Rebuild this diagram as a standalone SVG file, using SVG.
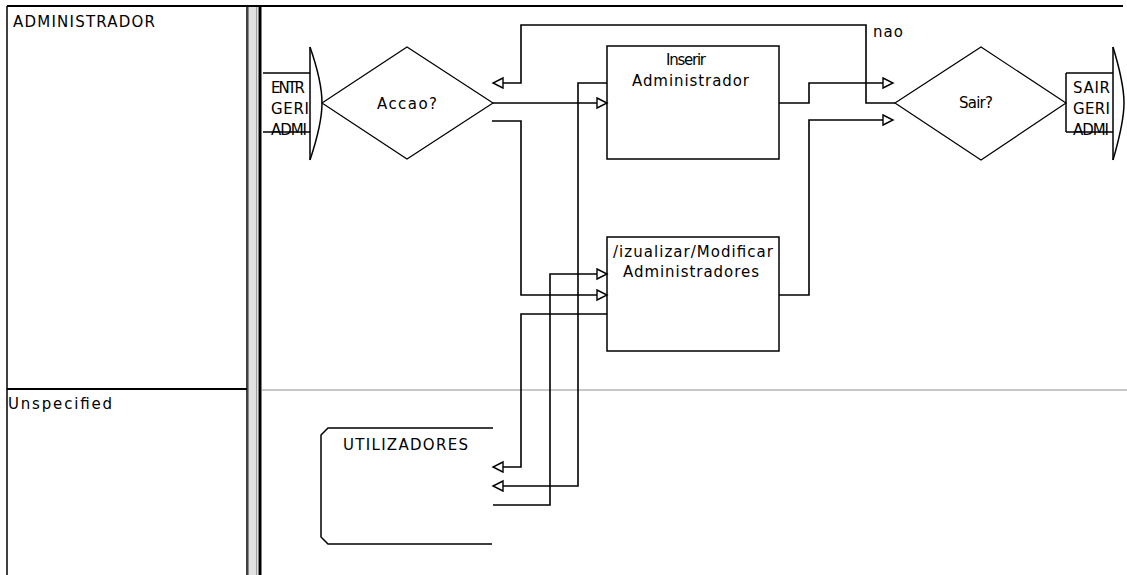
<svg xmlns="http://www.w3.org/2000/svg" width="1127" height="575" viewBox="0 0 1127 575">
<style>
text{font-family:"DejaVu Sans","Liberation Sans",Arial,sans-serif;font-size:15px;fill:#000}
.shape{fill:#fff;stroke:#000;stroke-width:1.5}
.dia{fill:#fff;stroke:#000;stroke-width:1.2}
.ln{fill:none;stroke:#000;stroke-width:1.5}
.con{fill:none;stroke:#000;stroke-width:1.6}
</style>
<defs>
<marker id="ah" markerUnits="userSpaceOnUse" markerWidth="14" markerHeight="14" refX="11" refY="6" orient="auto">
<path d="M1,1 L11,6 L1,11 Z" fill="#fff" stroke="#000" stroke-width="1.4"/>
</marker>
</defs>
<rect x="0" y="0" width="1127" height="575" fill="#fff"/>
<g id="lanes">
<line x1="7" y1="6" x2="1123" y2="6" stroke="#000" stroke-width="2"/>
<line x1="7" y1="6" x2="7" y2="575" stroke="#000" stroke-width="1.5"/>
<line x1="247" y1="6" x2="247" y2="575" stroke="#000" stroke-width="1.5"/>
<rect x="248" y="7" width="10" height="568" fill="#e2e2e2"/>
<line x1="248.5" y1="7" x2="248.5" y2="575" stroke="#8a8a8a" stroke-width="1"/>
<line x1="256.5" y1="7" x2="256.5" y2="575" stroke="#a0a0a0" stroke-width="1"/>
<line x1="260" y1="6" x2="260" y2="575" stroke="#000" stroke-width="3"/>
<line x1="7" y1="389" x2="247" y2="389" stroke="#000" stroke-width="2"/>
<line x1="262" y1="390" x2="1127" y2="390" stroke="#c8c8c8" stroke-width="2"/>
<text x="13" y="27" textLength="142" lengthAdjust="spacing">ADMINISTRADOR</text>
<text x="8" y="409" textLength="104" lengthAdjust="spacing">Unspecified</text>
</g>
<g id="entr">
<path class="ln" d="M263,73 H310 M263,132 H310 M310,47 V160"/>
<path class="ln" d="M310,47 C318,70 322,88 322,103 C322,118 318,136 310,160"/>
<text x="271" y="93" textLength="34" lengthAdjust="spacing">ENTR</text>
<text x="271" y="114" textLength="38" lengthAdjust="spacing">GERI</text>
<text x="271" y="135" textLength="36" lengthAdjust="spacing">ADMI</text>
</g>
<g id="accao">
<polygon class="dia" points="322,103 407,47 493,103 407,159"/>
<text x="377" y="109" textLength="60" lengthAdjust="spacing">Accao?</text>
</g>
<g id="inserir">
<rect class="shape" x="607" y="46" width="172" height="113"/>
<text x="666" y="65" textLength="40" lengthAdjust="spacing">Inserir</text>
<text x="632" y="86" textLength="117" lengthAdjust="spacing">Administrador</text>
</g>
<g id="visualizar">
<rect class="shape" x="607" y="237" width="172" height="114"/>
<text x="613" y="257" textLength="160" lengthAdjust="spacing">/izualizar/Modificar</text>
<text x="623" y="277" textLength="136" lengthAdjust="spacing">Administradores</text>
</g>
<g id="sair">
<polygon class="dia" points="895,103 981,47 1066,103 981,160"/>
<text x="959" y="108" textLength="34" lengthAdjust="spacing">Sair?</text>
</g>
<g id="sairgeri">
<path class="ln" d="M1066,73 H1113 M1066,132 H1113 M1066,73 V132 M1113,47 V160"/>
<path class="ln" d="M1113,47 C1120,70 1124,88 1124,103 C1124,118 1120,136 1113,160"/>
<text x="1073" y="93" textLength="37" lengthAdjust="spacing">SAIR</text>
<text x="1073" y="114" textLength="37" lengthAdjust="spacing">GERI</text>
<text x="1073" y="135" textLength="36" lengthAdjust="spacing">ADMI</text>
</g>
<g id="utilizadores">
<path class="ln" d="M493,428 H328 L321,435 V537 L328,544 H492"/>
<text x="343" y="450" textLength="125" lengthAdjust="spacing">UTILIZADORES</text>
</g>
<g id="connectors">
<path class="con" d="M493,103 H607" marker-end="url(#ah)"/>
<path class="con" d="M895,103 H866 V25 H521 V83 H493" marker-end="url(#ah)"/>
<text x="873" y="37" textLength="30" lengthAdjust="spacing">nao</text>
<path class="con" d="M492,121 H521 V295 H607" marker-end="url(#ah)"/>
<path class="con" d="M779,103 H809 V83 H893" marker-end="url(#ah)"/>
<path class="con" d="M779,295 H809 V120 H893" marker-end="url(#ah)"/>
<path class="con" d="M607,83 H578 V486 H493" marker-end="url(#ah)"/>
<path class="con" d="M607,314 H521 V467 H493" marker-end="url(#ah)"/>
<path class="con" d="M493,505 H550 V274 H607" marker-end="url(#ah)"/>
</g>
</svg>
